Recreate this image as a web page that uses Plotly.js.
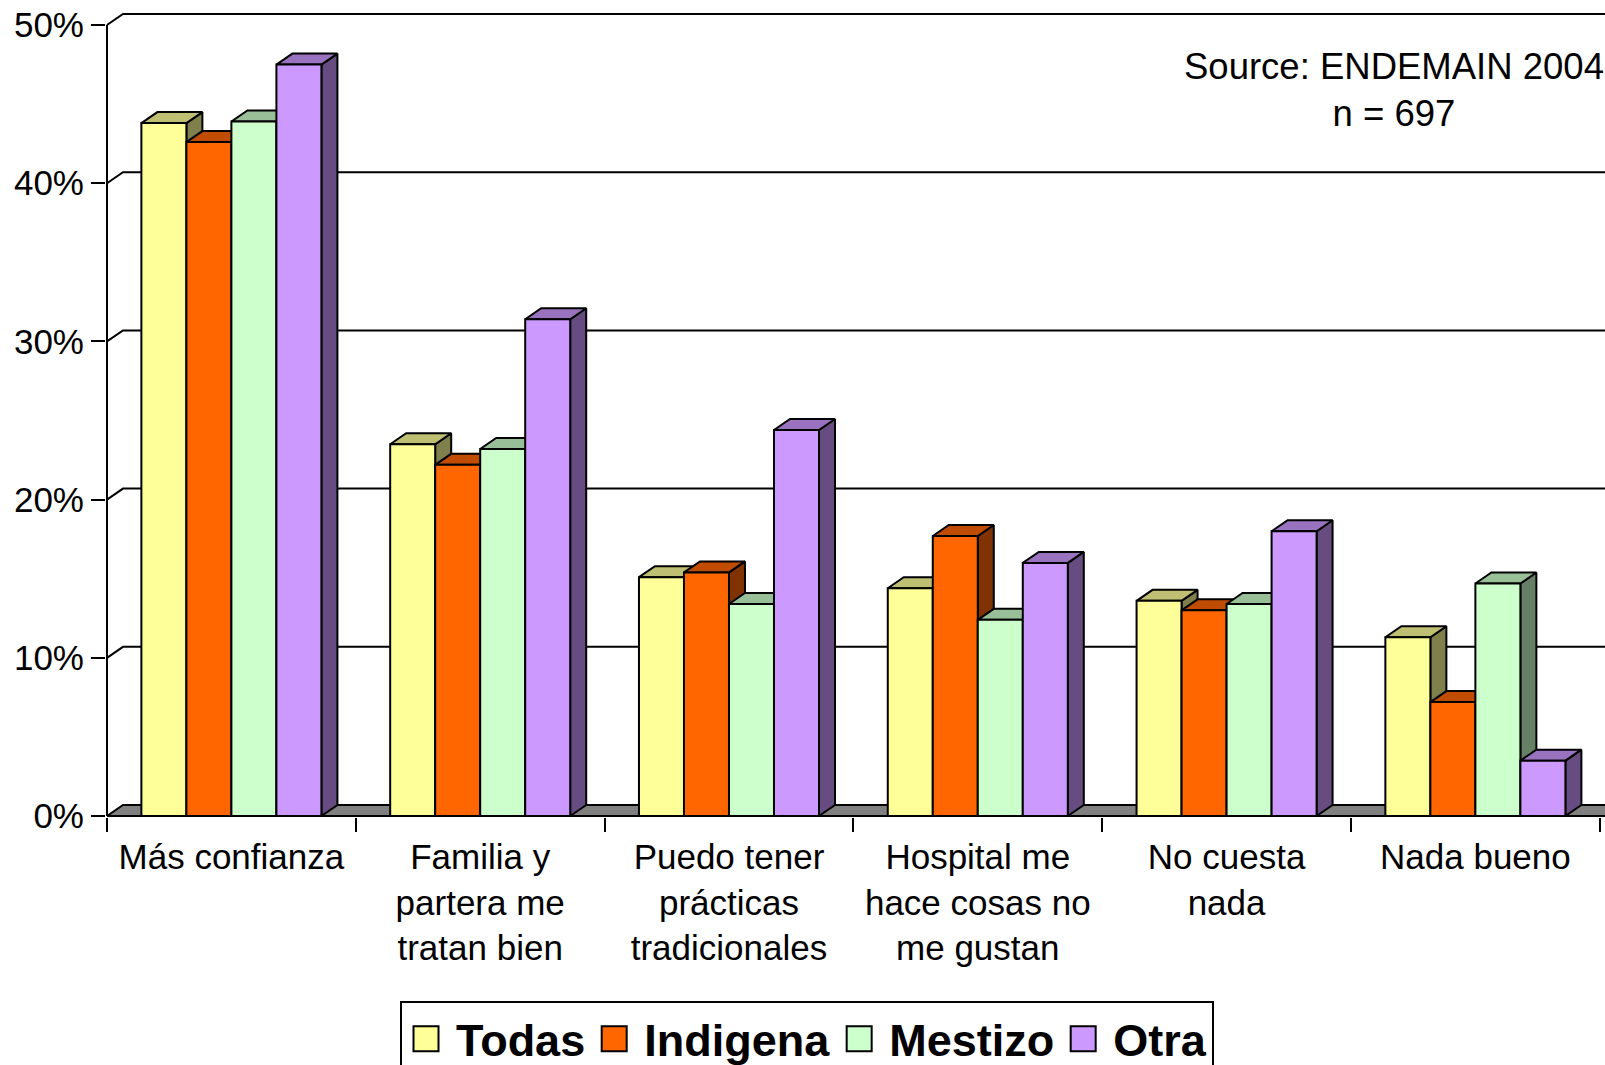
<!DOCTYPE html>
<html>
<head>
<meta charset="utf-8">
<script src="https://cdn.plot.ly/plotly-3.0.1.min.js"></script>
<style>
  html, body { margin: 0; padding: 0; background: #fff; }
  #chart { width: 1605px; height: 1065px; }
</style>
</head>
<body>
<div id="chart"></div>
<script>
// Reasons for preferring a home birth, by ethnic group (% of women)
const categories = [
  'Más confianza',
  'Familia y<br>partera me<br>tratan bien',
  'Puedo tener<br>prácticas<br>tradicionales',
  'Hospital me<br>hace cosas no<br>me gustan',
  'No cuesta<br>nada',
  'Nada bueno'
];
const seriesNames = ['Todas', 'Indigena', 'Mestizo', 'Otra'];
const todas    = [43.8, 23.5, 15.1, 14.4, 13.6, 11.3];
const indigena = [42.6, 22.2, 15.4, 17.7, 13.0, 7.2];
const mestizo  = [43.9, 23.2, 13.4, 12.4, 13.4, 14.7];
const otra     = [47.5, 31.4, 24.4, 16.0, 18.0, 3.5];
const yTicks      = [0, 10, 20, 30, 40, 50];
const yTickLabels = ['0%', '10%', '20%', '30%', '40%', '50%'];
const sourceNote = 'Source: ENDEMAIN 2004<br>n = 697';

const seriesValues = [todas, indigena, mestizo, otra];

// Face colours: front, top (darker) and right side (darkest)
const frontColors = ['#FFFF99', '#FF6600', '#CCFFCC', '#CC99FF'];
const topColors   = ['#BFBF73', '#BF4C00', '#99BF99', '#9973BF'];
const sideColors  = ['#80804C', '#803300', '#668066', '#664C80'];

// Axis ranges and the depth of the extruded (3-D look) faces, in axis units
const X_MIN = -0.504, X_MAX = 5.521;
const Y_MIN = -0.063, Y_MAX = 50.76;
const DX = 0.0643, DY = 0.695;
const GROUP_HALF = 0.3618;
const BAR_W = GROUP_HALF * 2 / seriesNames.length;

function polygonTrace(xs, ys, fillcolor) {
  return {
    type: 'scatter', mode: 'lines', x: xs, y: ys,
    fill: 'toself', fillcolor: fillcolor,
    line: { color: '#000', width: 2, simplify: false },
    hoverinfo: 'skip', showlegend: false
  };
}

const traces = [];

// Floor of the box
const floorRight = X_MAX + 0.2;
traces.push(polygonTrace(
  [-0.5, -0.5 + DX, floorRight, floorRight, -0.5],
  [0, DY, DY, 0, 0],
  '#808080'
));

// Gridlines on the back wall (with the short diagonal from the front axis) and the front value axis
const gx = [-0.5, -0.5], gy = [0, yTicks[yTicks.length - 1]];
yTicks.filter(v => v > 0).forEach(v => {
  gx.push(null, -0.5, -0.5 + DX, floorRight);
  gy.push(null, v, v + DY, v + DY);
});
traces.push({
  type: 'scatter', mode: 'lines', x: gx, y: gy,
  line: { color: '#000', width: 2, simplify: false },
  hoverinfo: 'skip', showlegend: false
});

// Extruded bars: side, top and front faces of every series, left to right
seriesValues.forEach((vals, s) => {
  const side = { x: [], y: [] }, top = { x: [], y: [] }, front = { x: [], y: [] };
  vals.forEach((v, i) => {
    const x0 = i - GROUP_HALF + s * BAR_W;
    const x1 = x0 + BAR_W;
    side.x.push(x1, x1, x1 + DX, x1 + DX, x1, null);
    side.y.push(0, v, v + DY, DY, 0, null);
    top.x.push(x0, x0 + DX, x1 + DX, x1, x0, null);
    top.y.push(v, v + DY, v + DY, v, v, null);
    front.x.push(x0, x0, x1, x1, x0, null);
    front.y.push(0, v, v, 0, 0, null);
  });
  traces.push(polygonTrace(side.x, side.y, sideColors[s]));
  traces.push(polygonTrace(top.x, top.y, topColors[s]));
  traces.push(polygonTrace(front.x, front.y, frontColors[s]));
});

// Legend entries
seriesNames.forEach((name, s) => {
  traces.push({
    type: 'bar', name: name, x: [null], y: [null], xaxis: 'x2',
    marker: { color: frontColors[s], line: { color: '#000', width: 2 } },
    hoverinfo: 'skip', showlegend: true
  });
});

const PLOT_L = 106, PLOT_T = 13, PLOT_B = 817, W = 1605, H = 1065;
const plotW = W - PLOT_L, plotH = PLOT_B - PLOT_T;

const layout = {
  width: W, height: H,
  margin: { l: PLOT_L, r: 0, t: PLOT_T, b: H - PLOT_B, autoexpand: false },
  paper_bgcolor: '#fff', plot_bgcolor: 'rgba(0,0,0,0)',
  font: { family: 'Liberation Sans, Arial, sans-serif', color: '#000', size: 35 },
  hovermode: false,
  showlegend: true,
  legend: {
    orientation: 'h', traceorder: 'normal',
    x: (400 - PLOT_L) / plotW, xanchor: 'left',
    y: (PLOT_B - 1001) / plotH, yanchor: 'top',
    bgcolor: '#fff', bordercolor: '#000', borderwidth: 2,
    font: { size: 45, weight: 'bold', color: '#000' },
    itemwidth: 44
  },
  xaxis: {
    range: [X_MIN, X_MAX], fixedrange: true,
    tickvals: categories.map((c, i) => i), ticktext: categories,
    ticks: '', showgrid: false, zeroline: false, showline: false,
    ticklabelstandoff: 16,
    tickfont: { size: 35 }
  },
  xaxis2: {
    overlaying: 'x', anchor: 'y', side: 'bottom',
    range: [X_MIN, X_MAX], fixedrange: true,
    tickvals: categories.map((c, i) => i - 0.5).concat([categories.length - 0.5]),
    showticklabels: false, ticks: 'outside', ticklen: 14, tickwidth: 2, tickcolor: '#000',
    showgrid: false, zeroline: false, showline: false
  },
  yaxis: {
    range: [Y_MIN, Y_MAX], fixedrange: true,
    tickvals: yTicks, ticktext: yTickLabels,
    ticks: 'outside', ticklen: 14, tickwidth: 2, tickcolor: '#000',
    showgrid: false, zeroline: false, showline: false,
    tickfont: { size: 35 }
  },
  annotations: [{
    xref: 'paper', yref: 'paper',
    x: (1394 - PLOT_L) / plotW, y: (PLOT_B - 90) / plotH,
    xanchor: 'center', yanchor: 'middle', align: 'center',
    text: sourceNote, showarrow: false,
    font: { size: 36.5, color: '#000' }
  }]
};

Plotly.newPlot('chart', traces, layout, { displayModeBar: false, responsive: false }).then(() => {
  // Larger legend swatches
  document.querySelectorAll('#chart .legend .legendpoints path').forEach(p => {
    p.setAttribute('d', 'M9.5,12.5H-15.5V-12.5H9.5Z');
  });
});
</script>
</body>
</html>
